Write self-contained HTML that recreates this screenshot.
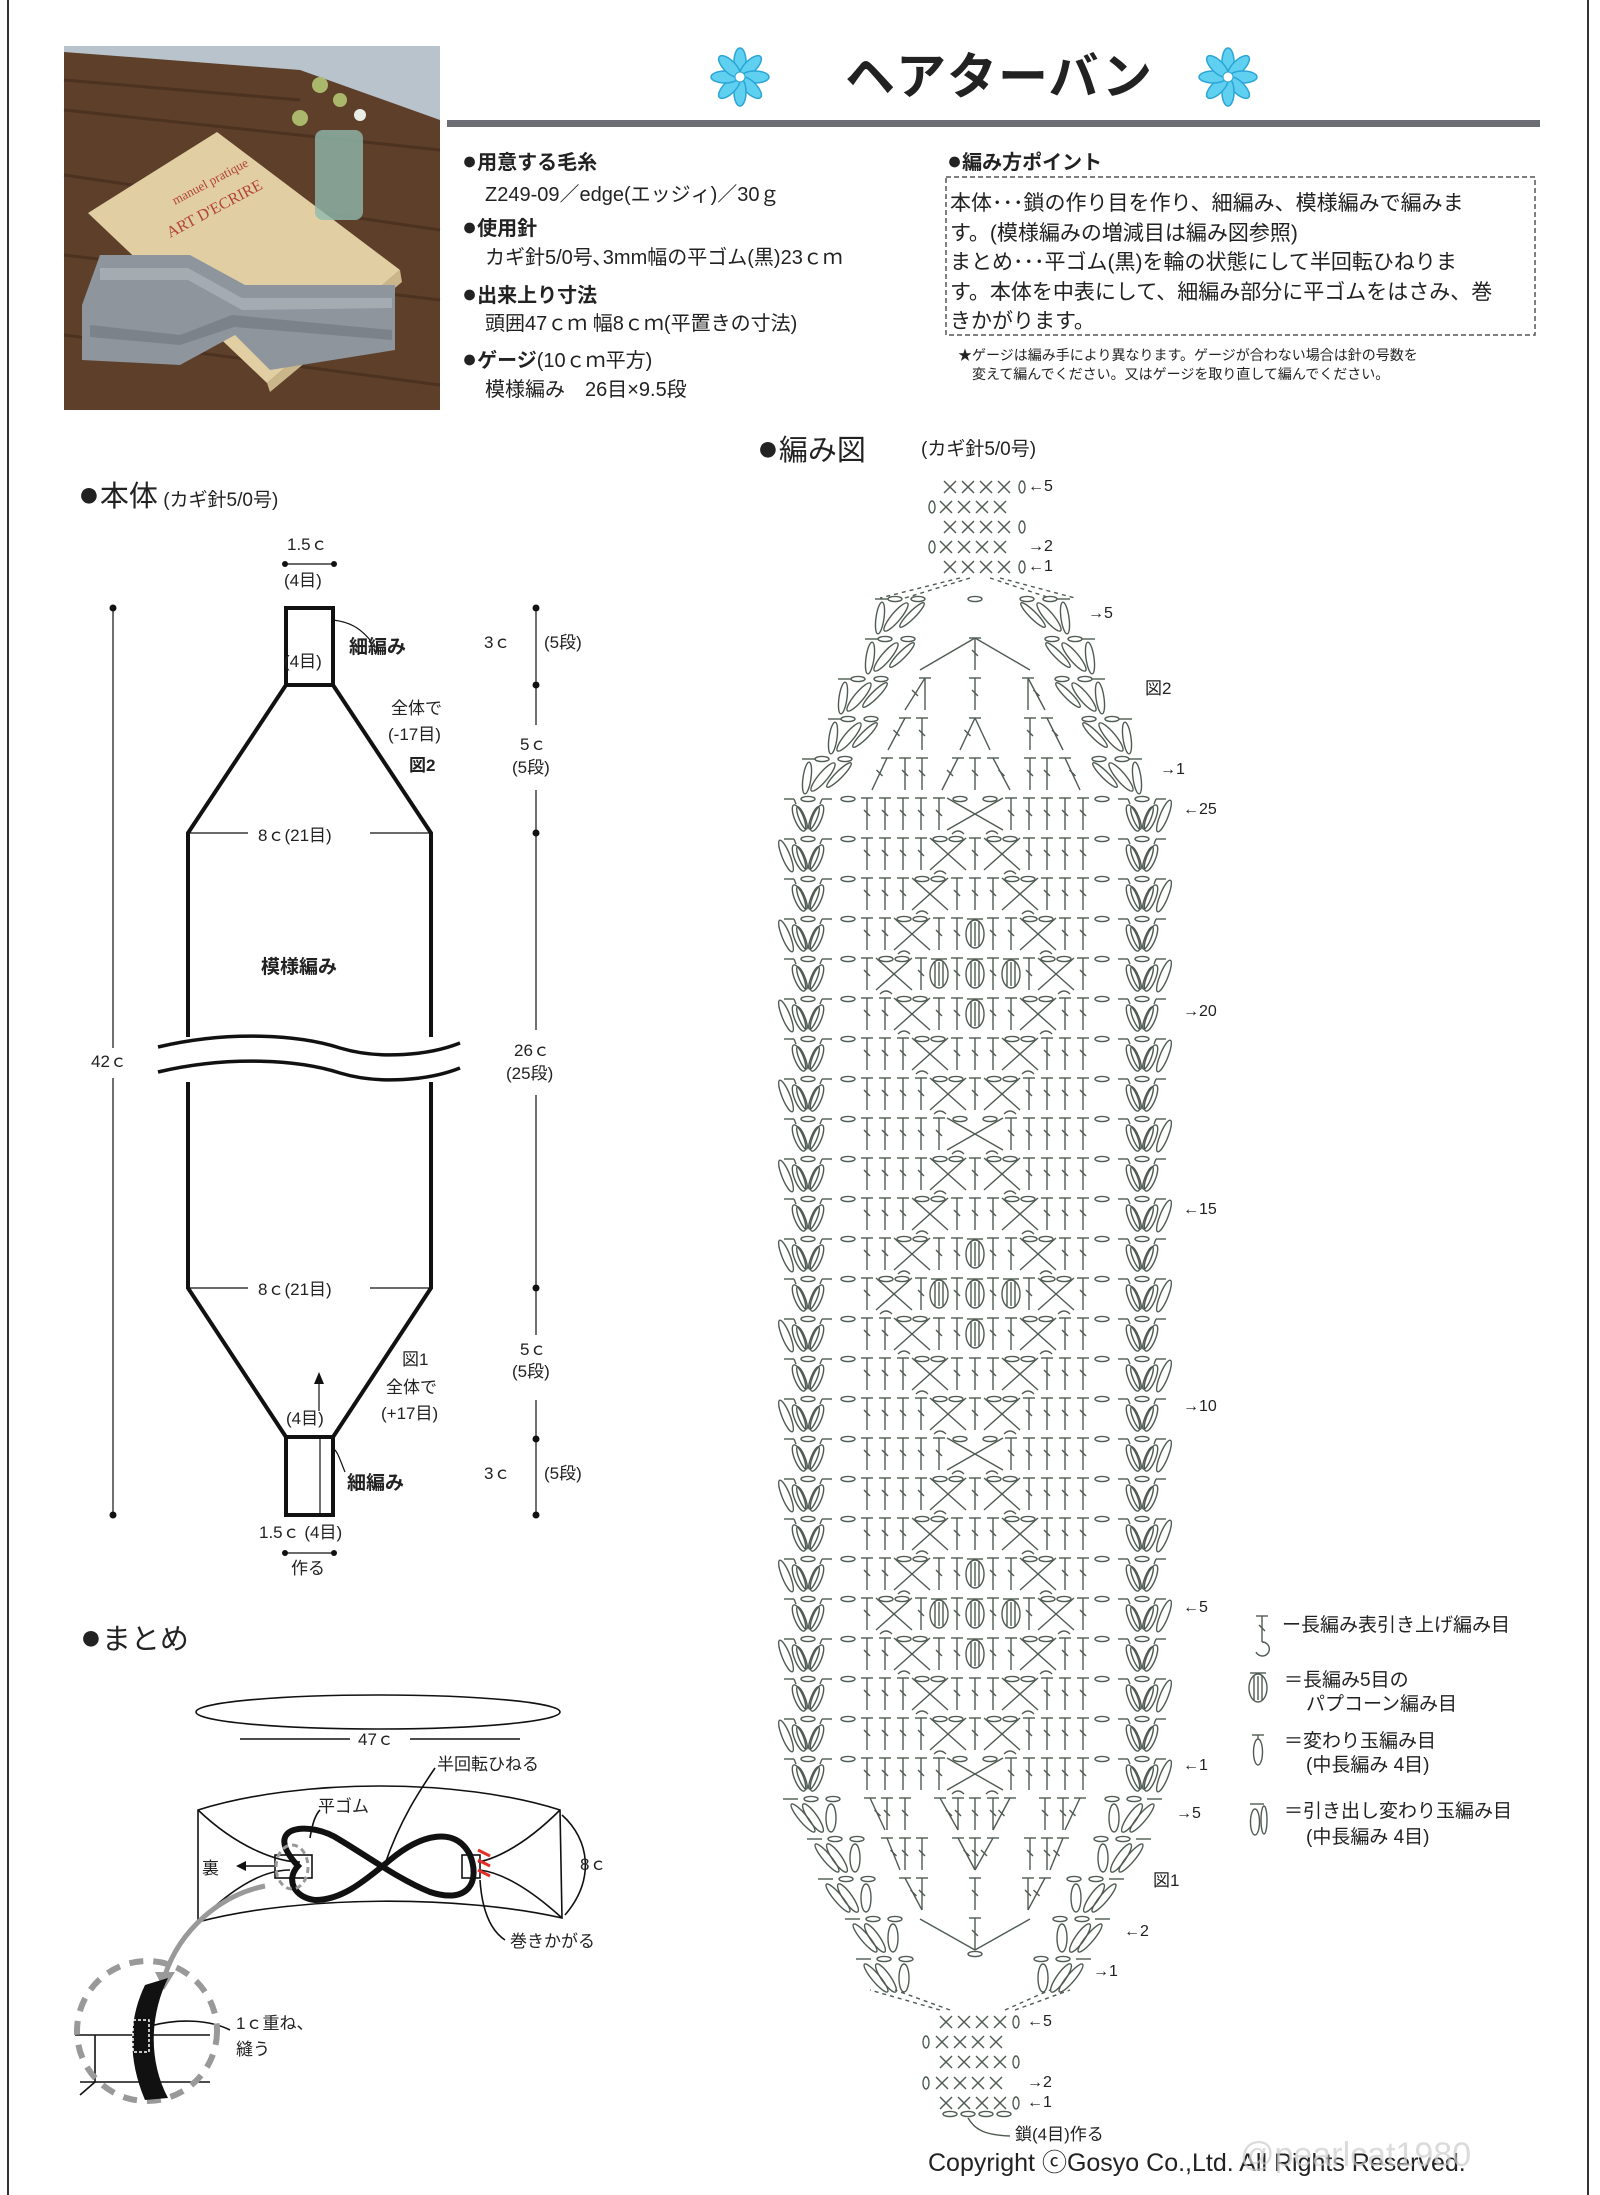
<!DOCTYPE html>
<html><head><meta charset="utf-8">
<style>
html,body{margin:0;padding:0;background:#fff;}
#pg{position:relative;width:1600px;height:2195px;overflow:hidden;background:#fff;font-family:"Liberation Sans","Noto Sans CJK JP",sans-serif;color:#222;}
.t{position:absolute;white-space:nowrap;line-height:1;}
.b{font-size:1.25em;}
svg{position:absolute;left:0;top:0;}
</style></head><body><div id="pg">
<svg id="s" width="1600" height="2195" viewBox="0 0 1600 2195" xmlns="http://www.w3.org/2000/svg">
<line x1="8" y1="0" x2="8" y2="2195" stroke="#333" stroke-width="2"/>
<line x1="1588" y1="0" x2="1588" y2="2195" stroke="#333" stroke-width="2"/>
<!-- photo -->
<g>
<rect x="64" y="46" width="376" height="364" fill="#5e3f2a"/>
<polygon points="64,46 440,46 440,120 300,70 64,52" fill="#b9c3cb"/>
<g stroke="#3e2819" stroke-width="3" opacity="0.55">
<line x1="64" y1="110" x2="440" y2="150"/><line x1="64" y1="175" x2="440" y2="230"/>
<line x1="64" y1="255" x2="440" y2="300"/><line x1="64" y1="335" x2="440" y2="385"/>
<line x1="64" y1="80" x2="300" y2="100"/>
</g>
<polygon points="88,213 217,132 400,270 267,383" fill="#e1cfa3"/>
<polygon points="267,383 400,270 402,282 270,392" fill="#c9b68a"/>
<text x="175" y="205" font-family="Liberation Serif" font-size="13" fill="#b2433a" transform="rotate(-28 175 205)">manuel pratique</text>
<text x="170" y="238" font-family="Liberation Serif" font-size="16" fill="#b2433a" transform="rotate(-28 170 238)">ART D'ECRIRE</text>
<rect x="315" y="130" width="48" height="90" rx="8" fill="#8fb9ad" opacity="0.8"/>
<circle cx="320" cy="85" r="8" fill="#a9b86a"/><circle cx="340" cy="100" r="7" fill="#a9b86a"/><circle cx="300" cy="118" r="8" fill="#a9b86a"/><circle cx="360" cy="115" r="6" fill="#e9eee6"/>
<polygon points="82,305 100,255 190,255 245,285 395,285 395,350 270,370 235,335 180,365 82,360" fill="#8e959c"/>
<polygon points="100,268 188,268 242,298 392,298 392,308 242,310 188,280 100,280" fill="#a4abb1"/>
<polygon points="90,325 180,335 232,315 392,330 392,340 234,327 180,345 90,337" fill="#7b8289"/>
</g>
<g id="fl1"></g>
<rect x="447" y="120" width="1093" height="7" fill="#6b6e72"/>
<rect x="946" y="177" width="589" height="158" fill="none" stroke="#555" stroke-width="1.5" stroke-dasharray="5,3"/>
<!-- 本体 diagram -->
<g fill="none" stroke="#111" stroke-width="4">
<rect x="286" y="608" width="47" height="77"/>
<polyline points="286,685 188,833 188,1037"/>
<polyline points="333,685 431,833 431,1037"/>
<polyline points="188,1082 188,1288 286,1437"/>
<polyline points="431,1082 431,1288 333,1437"/>
<rect x="286" y="1437" width="47" height="78"/>
</g>
<rect x="180" y="1050" width="260" height="18" fill="#fff"/>
<path d="M158,1047 C230,1030 300,1035 340,1048 C380,1060 430,1055 460,1043" fill="none" stroke="#111" stroke-width="3.5"/>
<path d="M158,1072 C230,1055 300,1060 340,1073 C380,1085 430,1080 460,1068" fill="none" stroke="#111" stroke-width="3.5"/>
<line x1="320" y1="1437" x2="320" y2="1515" stroke="#111" stroke-width="1.2"/>
<g stroke="#111" stroke-width="1.2" fill="none">
<line x1="190" y1="833" x2="248" y2="833"/><line x1="370" y1="833" x2="430" y2="833"/>
<line x1="190" y1="1288" x2="248" y2="1288"/><line x1="370" y1="1288" x2="430" y2="1288"/>
<line x1="113" y1="608" x2="113" y2="1048"/><line x1="113" y1="1078" x2="113" y2="1515"/>
<line x1="536" y1="608" x2="536" y2="685"/><line x1="536" y1="685" x2="536" y2="725"/><line x1="536" y1="790" x2="536" y2="1030"/><line x1="536" y1="1095" x2="536" y2="1335"/><line x1="536" y1="1400" x2="536" y2="1515"/>
<line x1="285" y1="564" x2="334" y2="564"/><line x1="285" y1="1553" x2="334" y2="1553"/>
<path d="M333,620 C350,622 360,628 370,640"/><path d="M333,1448 C338,1452 340,1460 345,1472"/>
<line x1="319" y1="1411" x2="319" y2="1380"/>
</g>
<polygon points="319,1372 314,1384 324,1384" fill="#111"/>
<g fill="#111">
<circle cx="113" cy="608" r="3.5"/><circle cx="113" cy="1515" r="3.5"/>
<circle cx="536" cy="608" r="3.5"/><circle cx="536" cy="685" r="3.5"/><circle cx="536" cy="833" r="3.5"/><circle cx="536" cy="1288" r="3.5"/><circle cx="536" cy="1439" r="3.5"/><circle cx="536" cy="1515" r="3.5"/>
<circle cx="285" cy="564" r="3"/><circle cx="334" cy="564" r="3"/><circle cx="285" cy="1553" r="3"/><circle cx="334" cy="1553" r="3"/>
</g>
<!-- まとめ -->
<g fill="none" stroke="#111" stroke-width="1.6">
<ellipse cx="378" cy="1712" rx="182" ry="17"/>
<line x1="240" y1="1739" x2="350" y2="1739"/><line x1="410" y1="1739" x2="520" y2="1739"/>
<path d="M198,1810 C300,1778 460,1778 560,1810 L562,1918 C460,1895 300,1895 198,1922 Z"/>
<path d="M198,1810 C240,1850 280,1862 300,1862"/><path d="M560,1810 C520,1850 490,1860 478,1862"/>
<path d="M198,1922 C240,1880 270,1870 290,1870"/><path d="M562,1918 C520,1880 495,1872 480,1870"/>
<path d="M562,1815 C590,1840 595,1880 565,1915"/>
<path d="M385,1864 C400,1820 420,1790 435,1768"/>
<path d="M310,1838 C312,1825 315,1815 320,1810"/>
<path d="M480,1880 C482,1910 490,1930 505,1940"/>
<rect x="275" y="1855" width="37" height="23"/>
<rect x="462" y="1855" width="18" height="23"/>
<line x1="275" y1="1866" x2="242" y2="1866"/>
<path d="M150,2026 C180,2018 210,2020 230,2030"/>
<line x1="75" y1="2035" x2="210" y2="2035"/>
<line x1="80" y1="2082" x2="210" y2="2082"/>
<line x1="95" y1="2035" x2="95" y2="2082"/>
<line x1="95" y1="2082" x2="80" y2="2095"/>
</g>
<polygon points="236,1866 246,1861 246,1871" fill="#111"/>
<path d="M298,1866 C260,1825 310,1820 340,1840 C370,1858 400,1880 430,1892 C470,1905 480,1880 470,1855 C455,1825 420,1835 390,1860 C360,1885 340,1900 315,1900 C295,1898 285,1880 298,1866 Z" fill="none" stroke="#111" stroke-width="6"/>
<g stroke="#e0302a" stroke-width="3"><line x1="478" y1="1850" x2="490" y2="1856"/><line x1="478" y1="1860" x2="490" y2="1866"/><line x1="478" y1="1870" x2="490" y2="1876"/></g>
<ellipse cx="292" cy="1867" rx="16" ry="22" fill="none" stroke="#999" stroke-width="3" stroke-dasharray="6,4"/>
<path d="M265,1886 C220,1895 180,1930 165,1975" fill="none" stroke="#999" stroke-width="5"/>
<polygon points="155,1972 175,1972 164,1990" fill="#999"/>
<circle cx="147" cy="2031" r="70" fill="none" stroke="#999" stroke-width="6" stroke-dasharray="14,10"/>
<path d="M145,1985 L168,1978 C150,2015 148,2060 168,2098 L145,2100 C128,2060 128,2020 145,1985 Z" fill="#111"/>
<rect x="133" y="2020" width="16" height="32" fill="none" stroke="#fff" stroke-width="1.5" stroke-dasharray="3,2"/>
<g id="chart" fill="none" stroke="#4f5b52" stroke-width="1.4"></g>
</svg>

<div class="t" style="left:845px;top:52px;font-size:50px;font-weight:bold;letter-spacing:1px;">ヘアターバン</div>
<div class="t" style="left:462px;top:149px;font-size:20px;font-weight:bold;"><span class="b">●</span>用意する毛糸</div>
<div class="t" style="left:485px;top:185px;font-size:20px;">Z249-09／edge(エッジィ)／30ｇ</div>
<div class="t" style="left:462px;top:215px;font-size:20px;font-weight:bold;"><span class="b">●</span>使用針</div>
<div class="t" style="left:485px;top:248px;font-size:20px;">カギ針5/0号､3mm幅の平ゴム(黒)23ｃｍ</div>
<div class="t" style="left:462px;top:282px;font-size:20px;font-weight:bold;"><span class="b">●</span>出来上り寸法</div>
<div class="t" style="left:485px;top:314px;font-size:20px;">頭囲47ｃｍ 幅8ｃｍ(平置きの寸法)</div>
<div class="t" style="left:462px;top:347px;font-size:20px;"><b><span class="b">●</span>ゲージ</b>(10ｃｍ平方)</div>
<div class="t" style="left:485px;top:380px;font-size:20px;">模様編み　26目×9.5段</div>
<div class="t" style="left:947px;top:149px;font-size:20px;font-weight:bold;"><span class="b">●</span>編み方ポイント</div>
<div class="t" style="left:950px;top:189px;font-size:21px;line-height:29.5px;">本体･･･鎖の作り目を作り、細編み、模様編みで編みま<br>す。(模様編みの増減目は編み図参照)<br>まとめ･･･平ゴム(黒)を輪の状態にして半回転ひねりま<br>す。本体を中表にして、細編み部分に平ゴムをはさみ、巻<br>きかがります。</div>
<div class="t" style="left:958px;top:348px;font-size:14px;">★ゲージは編み手により異なります。ゲージが合わない場合は針の号数を</div>
<div class="t" style="left:972px;top:367px;font-size:14px;">変えて編んでください。又はゲージを取り直して編んでください。</div>
<div class="t" style="left:757px;top:430px;font-size:29px;"><span class="b">●</span>編み図</div>
<div class="t" style="left:921px;top:440px;font-size:19px;">(カギ針5/0号)</div>
<div class="t" style="left:78px;top:476px;font-size:29px;"><span class="b">●</span>本体<span style="font-size:19px;"> (カギ針5/0号)</span></div>
<div class="t" style="left:287px;top:536px;font-size:17px;">1.5ｃ</div>
<div class="t" style="left:284px;top:572px;font-size:17px;">(4目)</div>
<div class="t" style="left:349px;top:638px;font-size:19px;font-weight:bold;">細編み</div>
<div class="t" style="left:284px;top:653px;font-size:17px;">(4目)</div>
<div class="t" style="left:391px;top:700px;font-size:17px;">全体で</div>
<div class="t" style="left:388px;top:726px;font-size:17px;">(-17目)</div>
<div class="t" style="left:409px;top:757px;font-size:17px;font-weight:bold;">図2</div>
<div class="t" style="left:258px;top:827px;font-size:17px;">8ｃ(21目)</div>
<div class="t" style="left:261px;top:958px;font-size:19px;font-weight:bold;">模様編み</div>
<div class="t" style="left:91px;top:1053px;font-size:17px;">42ｃ</div>
<div class="t" style="left:258px;top:1281px;font-size:17px;">8ｃ(21目)</div>
<div class="t" style="left:402px;top:1351px;font-size:17px;">図1</div>
<div class="t" style="left:386px;top:1379px;font-size:17px;">全体で</div>
<div class="t" style="left:381px;top:1405px;font-size:17px;">(+17目)</div>
<div class="t" style="left:286px;top:1410px;font-size:17px;">(4目)</div>
<div class="t" style="left:347px;top:1474px;font-size:19px;font-weight:bold;">細編み</div>
<div class="t" style="left:259px;top:1524px;font-size:17px;">1.5ｃ (4目)</div>
<div class="t" style="left:291px;top:1560px;font-size:17px;">作る</div>
<div class="t" style="left:484px;top:634px;font-size:17px;">3ｃ</div>
<div class="t" style="left:544px;top:634px;font-size:17px;">(5段)</div>
<div class="t" style="left:520px;top:736px;font-size:17px;">5ｃ</div>
<div class="t" style="left:512px;top:759px;font-size:17px;">(5段)</div>
<div class="t" style="left:514px;top:1042px;font-size:17px;">26ｃ</div>
<div class="t" style="left:506px;top:1065px;font-size:17px;">(25段)</div>
<div class="t" style="left:520px;top:1341px;font-size:17px;">5ｃ</div>
<div class="t" style="left:512px;top:1363px;font-size:17px;">(5段)</div>
<div class="t" style="left:484px;top:1465px;font-size:17px;">3ｃ</div>
<div class="t" style="left:544px;top:1465px;font-size:17px;">(5段)</div>
<div class="t" style="left:80px;top:1619px;font-size:29px;"><span class="b">●</span>まとめ</div>
<div class="t" style="left:358px;top:1731px;font-size:17px;">47ｃ</div>
<div class="t" style="left:437px;top:1756px;font-size:17px;">半回転ひねる</div>
<div class="t" style="left:318px;top:1798px;font-size:17px;">平ゴム</div>
<div class="t" style="left:202px;top:1860px;font-size:17px;">裏</div>
<div class="t" style="left:580px;top:1856px;font-size:17px;">8ｃ</div>
<div class="t" style="left:510px;top:1933px;font-size:17px;">巻きかがる</div>
<div class="t" style="left:236px;top:2015px;font-size:17px;">1ｃ重ね、</div>
<div class="t" style="left:236px;top:2041px;font-size:17px;">縫う</div>
<div id="cl"></div>
<div class="t" style="left:1282px;top:1616px;font-size:19px;">ー長編み表引き上げ編み目</div>
<div class="t" style="left:1284px;top:1671px;font-size:19px;">＝長編み5目の</div>
<div class="t" style="left:1306px;top:1695px;font-size:19px;">パプコーン編み目</div>
<div class="t" style="left:1284px;top:1732px;font-size:19px;">＝変わり玉編み目</div>
<div class="t" style="left:1306px;top:1756px;font-size:19px;">(中長編み 4目)</div>
<div class="t" style="left:1284px;top:1802px;font-size:19px;">＝引き出し変わり玉編み目</div>
<div class="t" style="left:1306px;top:1828px;font-size:19px;">(中長編み 4目)</div>
<div class="t" style="left:1015px;top:2126px;font-size:17px;">鎖(4目)作る</div>
<div class="t" style="left:928px;top:2151px;font-size:25px;color:#222;">Copyright ⓒGosyo Co.,Ltd. All Rights Reserved.</div>
<div class="t" style="left:1240px;top:2138px;font-size:34px;color:#ccc;opacity:0.7;">@pearlcat1980</div>
</div>
<script>
(function(){
var NS="http://www.w3.org/2000/svg";
function el(p,tag,a){var e=document.createElementNS(NS,tag);for(var k in a)e.setAttribute(k,a[k]);p.appendChild(e);return e;}
var fl=document.getElementById('fl1');
[740,1228].forEach(function(cx){var cy=77;for(var i=0;i<8;i++){el(fl,'ellipse',{cx:cx,cy:cy-15,rx:6,ry:14,fill:'#5fd0f0',stroke:'#2aa5d6','stroke-width':1.5,transform:'rotate('+(i*45)+' '+cx+' '+cy+')'});}el(fl,'circle',{cx:cx,cy:cy,r:5,fill:'#fff',stroke:'#2aa5d6'});});
var g=document.getElementById('chart');
function L(x1,y1,x2,y2,extra){var a={x1:x1,y1:y1,x2:x2,y2:y2};if(extra)for(var k in extra)a[k]=extra[k];el(g,'line',a);}
function T(x,y,h,bx){h=h||30;L(x-6,y,x+6,y);L(x,y,bx===undefined?x:bx,y+h);var mx=(x+(bx===undefined?x:bx))/2;L(mx-3,y+h/2-4,mx+3,y+h/2+2);}
function O(x,y){el(g,'ellipse',{cx:x,cy:y,rx:7,ry:2.6});}
function E(x,y,rx,ry,rot){el(g,'ellipse',{cx:x,cy:y,rx:rx,ry:ry,transform:'rotate('+rot+' '+x+' '+y+')'});}
function leafV(cx,y,extra,side){
  L(cx-24,y+1,cx-14,y+1);O(cx,y+1);L(cx+14,y+1,cx+24,y+1);
  E(cx-9,y+20,4.5,14,-22);E(cx-6,y+20,3,12,-22);
  E(cx+9,y+20,4.5,14,22);E(cx+6,y+20,3,12,22);
  L(cx-14,y+1,cx-12,y+6);L(cx+14,y+1,cx+12,y+6);
  if(extra){E(cx+side*22,y+18,4,17,side*22);}
}
function pop(x,y){E(x,y+16,9,14,0);for(var i=-1;i<=1;i++)L(x+i*4,y+4,x+i*4,y+28);L(x-8,y+1,x+8,y+1);}
var CX=975,SP=18;
var cr=document.getElementById('cl');
function lab(x,y,t,fs){var d=document.createElement('div');d.className='t';d.style.left=x+'px';d.style.top=(y-(fs||16)/2)+'px';d.style.fontSize=(fs||16)+'px';d.textContent=t;cr.appendChild(d);}
function xrow(y,shift,zeroLeft){
  for(var i=0;i<4;i++){var x=950+shift+i*18;L(x-6,y-6,x+6,y+6);L(x-6,y+6,x+6,y-6);}
  var zx=zeroLeft?936+shift:1022+shift;E(zx,y,3,6,0);
}
var ty=[487,507,527,547,567];
xrow(ty[0],0,false);xrow(ty[1],-4,true);xrow(ty[2],0,false);xrow(ty[3],-4,true);xrow(ty[4],0,false);
lab(1028,487,'←5');lab(1028,547,'→2');lab(1028,567,'←1');
var by=[2022,2042,2062,2083,2103];
function xrow2(y,shift,zl){for(var i=0;i<4;i++){var x=950+shift+i*18-4;L(x-6,y-6,x+6,y+6);L(x-6,y+6,x+6,y-6);}var zx=zl?930+shift:1016+shift;E(zx,y,3,6,0);}
xrow2(by[0],0,false);xrow2(by[1],-4,true);xrow2(by[2],0,false);xrow2(by[3],-4,true);xrow2(by[4],0,false);
for(var i=0;i<4;i++)O(950+i*18,2114);
lab(1027,2022,'←5');lab(1027,2083,'→2');lab(1027,2103,'←1');
el(g,'path',{d:'M968,2118 C975,2130 985,2135 1010,2136'});
var ds={'stroke-dasharray':'4,4'};
L(960,578,880,598,ds);L(970,578,905,598,ds);L(990,578,1050,598,ds);L(1000,578,1075,598,ds);
L(940,2010,870,1990,ds);L(950,2010,895,1990,ds);L(1005,2010,1050,1990,ds);L(1015,2010,1070,1990,ds);
var tt=[598,638,678,718,758],tl=[870,860,833,823,797],tr=[1075,1100,1110,1137,1147];
for(var r=0;r<5;r++){
  var y=tt[r],xl=tl[r],xr=tr[r];
  O(xl+25,y+1);O(xl+48,y+1);L(xl+5,y+1,xl+18,y+1);
  E(xl+10,y+20,4,16,8);E(xl+26,y+19,4.5,18,40);E(xl+42,y+17,3.5,17,45);
  O(xr-25,y+1);O(xr-48,y+1);L(xr-18,y+1,xr-5,y+1);
  E(xr-10,y+20,4,16,-8);E(xr-26,y+19,4.5,18,-40);E(xr-42,y+17,3.5,17,-45);
  if(r==0){O(CX,y+1);}
  if(r==1){T(CX,y,32);L(CX,y,920,y+32);L(CX,y,1030,y+32);}
  if(r==2){T(CX,y,32);T(925,y,32,905);L(925,y,925,y+32);T(1028,y,32,1045);L(1028,y,1028,y+32);}
  if(r==3){T(CX,y,32,960);L(CX,y,990,y+32);T(905,y,32,888);T(922,y,32);T(1030,y,32);T(1047,y,32,1063);}
  if(r==4){T(887,y,32,872);T(905,y,32);T(922,y,32);T(958,y,32,942);T(CX,y,32);T(993,y,32,1010);T(1030,y,32);T(1047,y,32);T(1065,y,32,1080);}
}
lab(1088,614,'→5');lab(1160,770,'→1');
for(var i=0;i<25;i++){
  var row=25-i,y=798+i*40;
  leafV(808,y,i%2==1,-1);O(848,y+1);
  leafV(1142,y,i%2==0,1);O(1102,y+1);
  var ph=i%8, d=ph<=4?ph:8-ph;
  var cols={};
  if(d==0){L(CX-28,y,CX+28,y+32);L(CX+28,y,CX-28,y+32);O(CX-15,y+1);O(CX+15,y+1);cols[-1]=cols[0]=cols[1]=1;}
  else{
    [-1,1].forEach(function(s){var c=s*(d+0.5);var x=CX+c*SP;
      L(x-SP,y,x+SP,y+32);L(x+SP,y,x-SP,y+32);O(x-8,y+1);O(x+8,y+1);
      cols[s*d]=1;cols[s*(d+1)]=1;});
    if(d>=3){pop(CX,y);cols[0]=1;}
    if(d==4){pop(CX-2*SP,y);pop(CX+2*SP,y);cols[-2]=cols[2]=1;}
  }
  for(var k=-6;k<=6;k++){if(!cols[k])T(CX+k*SP,y,32);}
  el(g,'path',{d:'M'+(CX-(d+0.5)*SP-14)+','+(y+36)+' q6,-6 12,0'});
  el(g,'path',{d:'M'+(CX+(d+0.5)*SP+2)+','+(y+36)+' q6,-6 12,0'});
}
lab(1183,810,'←25');lab(1183,1012,'→20');lab(1183,1210,'←15');lab(1183,1407,'→10');lab(1183,1608,'←5');lab(1183,1766,'←1');
lab(1145,688,'図2',17);lab(1153,1880,'図1',17);
var bt=[1798,1838,1878,1918,1958],bl=[783,807,818,845,856],br=[1162,1151,1124,1110,1091];
for(var r=0;r<5;r++){
  var y=bt[r],xl=bl[r],xr=br[r];
  L(xl,y+1,xl+15,y+1);O(xl+28,y+1);O(xl+50,y+1);
  E(xl+20,y+20,4,18,-40);E(xl+30,y+20,4.5,17,-35);E(xl+48,y+20,5,14,0);
  L(xr-15,y+1,xr,y+1);O(xr-28,y+1);O(xr-50,y+1);
  E(xr-20,y+20,4,18,40);E(xr-30,y+20,4.5,17,35);E(xr-48,y+20,5,14,0);
  if(r==0){T(870,y,32,885);T(887,y,32);T(905,y,32);T(940,y,32,958);T(958,y,32);T(975,y,32);T(993,y,32);T(1010,y,32,993);T(1045,y,32);T(1063,y,32);T(1080,y,32,1065);}
  if(r==1){T(887,y,32,900);T(905,y,32);T(922,y,32);T(958,y,32,975);T(975,y,32);T(993,y,32,975);T(1030,y,32);T(1047,y,32);T(1063,y,32,1050);}
  if(r==2){T(905,y,32,922);T(922,y,32);T(975,y,32);T(1028,y,32);T(1045,y,32,1028);}
  if(r==3){T(975,y,32);L(920,y+1,975,y+32);L(1030,y+1,975,y+32);O(975,y+36);}
}
lab(1176,1814,'→5');lab(1124,1932,'←2');lab(1093,1972,'→1');
T(1262,1616,26);el(g,'path',{d:'M1262,1642 a7,7 0 1 1 -6,10'});
pop(1258,1672);
E(1258,1752,4.5,13,0);L(1252,1735,1264,1735);L(1258,1735,1258,1739);
E(1255,1822,4.5,13,0);E(1264,1820,3,14,0);L(1250,1804,1264,1804);
})();
</script>
</body></html>
